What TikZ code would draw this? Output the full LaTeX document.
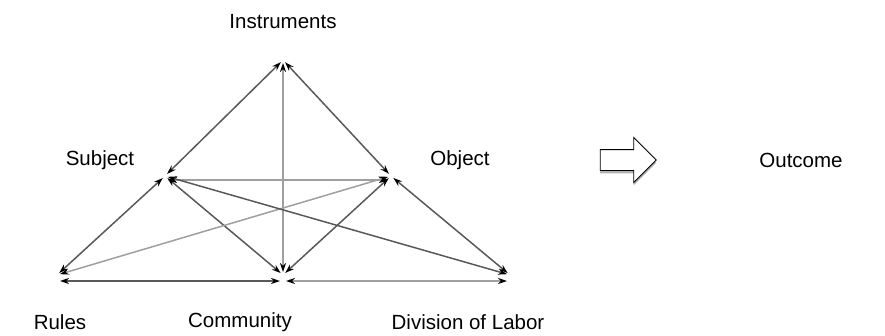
\documentclass[tikz,border=0pt]{standalone}
\usepackage{fontspec}
\setmainfont{Liberation Sans}
\usetikzlibrary{arrows.meta,positioning,shapes.arrows,shadows}

\begin{document}
\begin{tikzpicture}[x=1pt, y=-1pt, >={Stealth[length=9pt,width=6pt,color=black]},
    lbl/.style={font=\fontsize{20.5}{24}\selectfont, inner sep=0pt},
    dark/.style={<->, line width=1.5pt, black!65, shorten <=3pt, shorten >=3pt},
    light/.style={<->, line width=1.5pt, gray!75, shorten <=3pt, shorten >=3pt},
    bigarrow/.style={single arrow, draw=black, line width=0.9pt, fill=white,
      minimum height=56pt, inner xsep=0pt, inner ysep=10pt, single arrow head extend=12pt,
      drop shadow={opacity=1, fill=gray!60, shadow xshift=0pt, shadow yshift=-3pt}}]
  \useasboundingbox (0,0) rectangle (885,335);

  % vertices
  \coordinate (inst) at (283,60);
  \coordinate (subj) at (165,176);
  \coordinate (obj)  at (391,176);
  \coordinate (rule) at (57,275);
  \coordinate (comm) at (283,275);
  \coordinate (div)  at (510,275);

  % labels
  \node[lbl] (instL) at (283,22)  {Instruments};
  \node[lbl] (subjL) at (100,160) {Subject};
  \node[lbl] (objL)  at (460,160) {Object};
  \node[lbl] (outL)  at (801,160) {Outcome};
  \node[lbl] (ruleL) at (60,322)  {Rules};
  \node[lbl] (commL) at (240,322) {Community};
  \node[lbl] (divL)  at (468,322) {Division of Labor};

  % outer triangle
  \draw[dark] (inst) -- (subj);
  \draw[dark] (inst) -- (obj);
  \draw[dark] (subj) -- (rule);
  \draw[dark] (obj) -- (div);
  \draw[dark] ([yshift=-6pt]rule) -- ([yshift=-6pt]comm);
  \draw[light] ([yshift=-6pt]comm) -- ([yshift=-6pt]div);

  % inner connections
  \draw[light] (inst) -- (comm);
  \draw[light] ([yshift=-4pt]subj) -- ([yshift=-4pt]obj);
  \draw[dark] (subj) -- (comm);
  \draw[dark] (obj) -- (comm);
  \draw[light] (obj) -- (rule);
  \draw[dark] (subj) -- (div);

  % outcome arrow
  \node[bigarrow] (out) at (623,160) {};
\end{tikzpicture}
\end{document}
